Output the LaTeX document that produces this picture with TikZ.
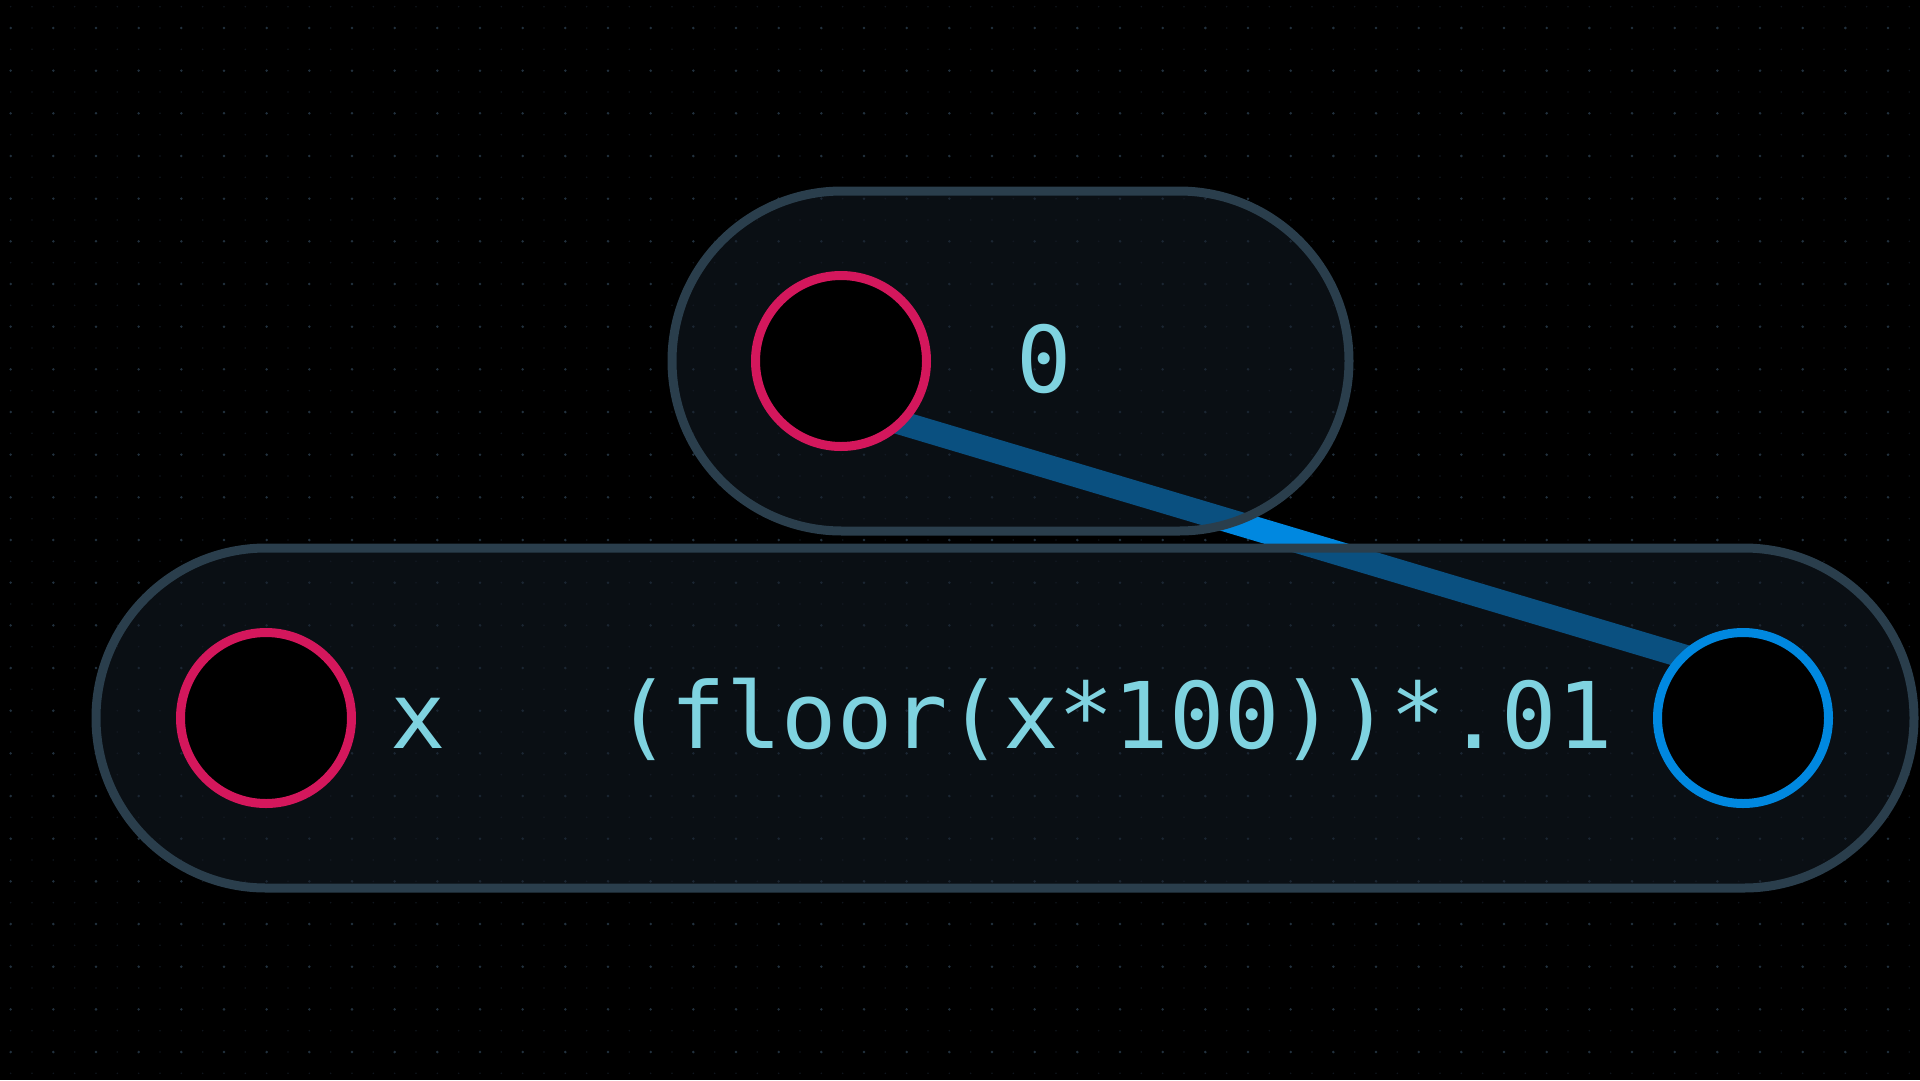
\documentclass[tikz,border=0pt]{standalone}
\usepackage{fontspec}
\setmonofont{DejaVu Sans Mono}
\pgfdeclarelayer{grid}
\pgfdeclarelayer{wire}
\pgfdeclarelayer{pill}
\pgfsetlayers{grid,wire,pill,main}
\definecolor{pillfill}{HTML}{151D28}
\definecolor{pillline}{HTML}{2A3E4C}
\definecolor{pinkc}{HTML}{D4175C}
\definecolor{bluec}{HTML}{0088E0}
\definecolor{textc}{HTML}{7FD3E0}
\definecolor{dotmaj}{HTML}{22313E}
\definecolor{dotmin}{HTML}{0F161D}
\begin{document}
\begin{tikzpicture}[x=1pt,y=-1pt,
  port/.style={circle, draw, line width=9pt, fill=black, minimum size=171pt, inner sep=0pt},
  inport/.style={port, draw=pinkc},
  outport/.style={port, draw=bluec},
  label/.style={text=textc, anchor=base, inner sep=0pt, font=\ttfamily\fontsize{92}{92}\selectfont},
  pillbox/.style={draw=pillline, line width=9pt, fill=pillfill, fill opacity=0.52, rounded corners=170pt},
  wire/.style={draw=bluec, line width=24pt}]
\useasboundingbox (0,0) rectangle (1920,1080);

% nodes
\node[inport] (in0) at (841,361) {};
\node[label] (t0) at (1044,392) {0};
\node[inport] (inx) at (266,718) {};
\node[label] (tx) at (418,748) {x};
\node[label] (expr) at (1114,748) {(floor(x*100))*.01};
\node[outport] (out) at (1743,718) {};

% grid background
\begin{pgfonlayer}{grid}
  \fill[black] (0,0) rectangle (1920,1080);
  \foreach \i in {0,...,89}{
    \foreach \j in {0,...,50}{
      \fill[dotmin] (10.667+\i*21.333, 6.667+\j*21.333) circle (0.9pt);
    }
  }
  \foreach \i in {0,...,44}{
    \foreach \j in {0,...,24}{
      \fill[dotmaj] (10.667+\i*42.667, 28+\j*42.667) circle (1.4pt);
    }
  }
\end{pgfonlayer}

% connector
\begin{pgfonlayer}{wire}
  \draw[wire] ([yshift=-44pt]in0.center) -- ([yshift=44pt]out.center);
\end{pgfonlayer}

% pills
\begin{pgfonlayer}{pill}
  \path[pillbox] (672,191) rectangle (1349,531);
  \path[pillbox] (96,548) rectangle (1914,888);
\end{pgfonlayer}
\end{tikzpicture}
\end{document}
